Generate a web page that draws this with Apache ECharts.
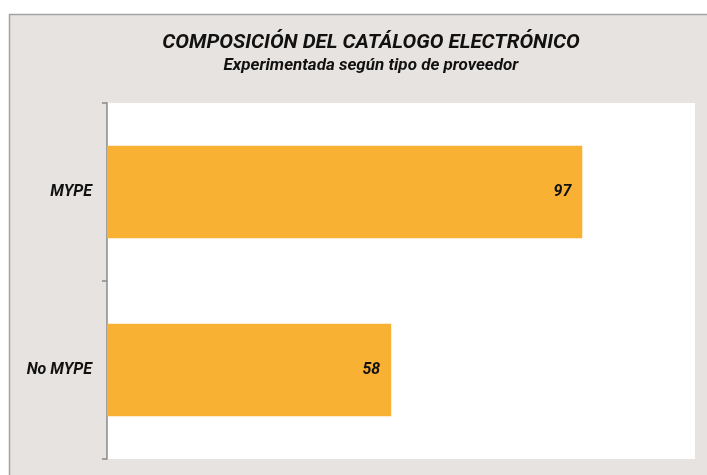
<!DOCTYPE html>
<html>
<head>
<meta charset="utf-8">
<script src="https://cdn.jsdelivr.net/npm/echarts@6/dist/echarts.min.js"></script>
<style>
  html, body { margin: 0; padding: 0; background: #fff; }
  #chart { width: 707px; height: 475px; }
</style>
</head>
<body>
<div id="chart"></div>
<script>
// data
const categories = ['MYPE', 'No MYPE'];
const values = [97, 58];
const titleText = 'COMPOSICIÓN DEL CATÁLOGO ELECTRÓNICO';
const subtitleText = 'Experimentada según tipo de proveedor';

const myChart = echarts.init(document.getElementById('chart'));
const font = 'Roboto';

const option = {
    backgroundColor: '#ffffff',
    animation: false,
    graphic: [{
        type: 'rect',
        z: -10,
        shape: { x: 9.5, y: 14.5, width: 740, height: 480 },
        style: { fill: '#e7e3e0', stroke: '#a3a3a3', lineWidth: 1.5 }
    }],
    title: {
        text: titleText,
        subtext: subtitleText,
        left: 366,
        top: 28,
        textAlign: 'center',
        itemGap: 4,
        textStyle: {
            fontFamily: font, fontSize: 20.5, fontWeight: 'bold', fontStyle: 'italic', color: '#111'
        },
        subtextStyle: {
            fontFamily: font, fontSize: 17, fontWeight: 'bold', fontStyle: 'italic', color: '#111'
        }
    },
    grid: {
        left: 107, right: 12, top: 103, bottom: 16,
        show: true, backgroundColor: '#ffffff', borderWidth: 0
    },
    xAxis: {
        type: 'value', min: 0, max: 120,
        show: false
    },
    yAxis: {
        type: 'category',
        inverse: true,
        data: categories,
        axisLine: { show: true, lineStyle: { color: '#8a8a8a', width: 1.5 } },
        axisTick: { show: true, length: 5, alignWithLabel: false, lineStyle: { color: '#8a8a8a', width: 1.5 } },
        axisLabel: {
            margin: 15, color: '#111',
            fontFamily: font, fontSize: 16, fontWeight: 'bold', fontStyle: 'italic'
        }
    },
    series: [{
        type: 'bar',
        data: values,
        barCategoryGap: '48%',
        itemStyle: { color: '#f8b133' },
        label: {
            show: true, position: 'insideRight', distance: 11,
            color: '#111', fontFamily: font, fontSize: 16, fontWeight: 'bold', fontStyle: 'italic'
        }
    }]
};
myChart.setOption(option);
</script>
</body>
</html>
